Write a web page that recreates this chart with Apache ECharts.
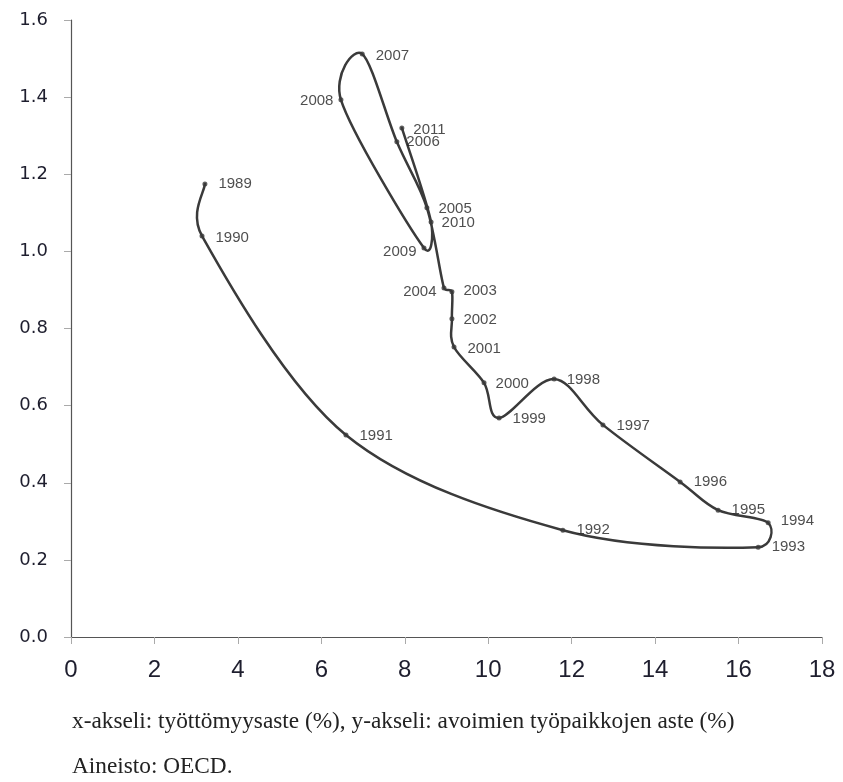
<!DOCTYPE html>
<html><head><meta charset="utf-8">
<script src="https://cdn.jsdelivr.net/npm/echarts@6/dist/echarts.min.js"></script>
<style>html,body{margin:0;padding:0;background:#fff}#c{width:843px;height:782px}</style>
</head><body><div id="c"></div>
<script>
const years = ['1989','1990','1991','1992','1993','1994','1995','1996','1997','1998','1999','2000','2001','2002','2003','2004','2005','2006','2007','2008','2009','2010','2011'];
const unemployment = [3.21,3.14,6.59,11.79,16.47,16.71,15.51,14.60,12.75,11.58,10.26,9.90,9.18,9.13,9.13,8.94,8.53,7.81,6.98,6.47,8.46,8.63,7.93];
const vacancies = [1.175,1.040,0.524,0.277,0.233,0.296,0.329,0.402,0.550,0.669,0.568,0.659,0.752,0.825,0.895,0.905,1.113,1.284,1.512,1.393,1.009,1.076,1.320];
const xTicks = [0,2,4,6,8,10,12,14,16,18];
const yTicks = ['0.0','0.2','0.4','0.6','0.8','1.0','1.2','1.4','1.6'];

const leftLabels = {'2004':[0,4],'2008':[0,1],'2009':[0,4]};
const labelShift = {'1990':[0,2],'1991':[0,1],'1994':[-1,-2],'1997':[0,1],'1998':[-1,1],'1999':[0,1],'2000':[-2,1],'2001':[0,2],'2002':[-2,1],'2003':[-2,-1],'2005':[-2,1],'2006':[-4,0],'2007':[0,2],'2010':[-3,1],'2011':[-2,2]};

const points = years.map((y,i)=>{
  const item = {value:[unemployment[i],vacancies[i]], name:y};
  if (leftLabels[y]) {
    item.label = {position:'left', distance:5, offset:leftLabels[y]};
  } else if (labelShift[y]) {
    item.label = {offset:labelShift[y]};
  }
  return item;
});
const lineData = unemployment.map((x,i)=>[x, vacancies[i]]);

function renderCurve(params, api){
  if (params.dataIndex !== 0) return null;
  const p = lineData.map(d=>api.coord(d));
  const n = p.length;
  const cpIn = [], cpOut = [];
  for (let i=0;i<n;i++){
    const a=p[Math.max(i-1,0)], b=p[i], c=p[Math.min(i+1,n-1)];
    const vx=(c[0]-a[0])/6, vy=(c[1]-a[1])/6;
    const hl=Math.hypot(vx,vy) || 1;
    const d0=Math.hypot(b[0]-a[0],b[1]-a[1]), d1=Math.hypot(c[0]-b[0],c[1]-b[1]);
    const kIn=Math.min(1,(0.5*d0)/hl), kOut=Math.min(1,(0.5*d1)/hl);
    cpIn[i]=[b[0]-vx*kIn, b[1]-vy*kIn];
    cpOut[i]=[b[0]+vx*kOut, b[1]+vy*kOut];
  }
  let d = 'M' + p[0][0] + ' ' + p[0][1];
  for (let i=0;i<n-1;i++){
    d += ' C' + cpOut[i][0] + ' ' + cpOut[i][1] + ' ' + cpIn[i+1][0] + ' ' + cpIn[i+1][1] + ' ' + p[i+1][0] + ' ' + p[i+1][1];
  }
  return {type:'path', shape:{pathData:d}, style:{stroke:'#3a3a3a', lineWidth:2.5, fill:null, lineJoin:'round', lineCap:'round'}};
}

const chart = echarts.init(document.getElementById('c'));
chart.setOption({
  animation:false,
  backgroundColor:'#fff',
  grid:{left:71,right:21,top:20,bottom:145,containLabel:false},
  xAxis:{type:'value',min:0,max:18,interval:2,
    axisLine:{show:true,lineStyle:{color:'#555',width:1.2}},
    axisTick:{show:true,length:7,lineStyle:{color:'#aaa'}},
    splitLine:{show:false},
    axisLabel:{margin:21,fontFamily:'Liberation Sans',fontSize:24,color:'#1e1e2e',
      formatter:v=>xTicks.includes(v)?String(v):''}},
  yAxis:{type:'value',min:0,max:1.6,interval:0.2,
    axisLine:{show:true,lineStyle:{color:'#555',width:1.2}},
    axisTick:{show:true,length:7,lineStyle:{color:'#aaa'}},
    splitLine:{show:false},
    axisLabel:{margin:23,fontFamily:'DejaVu Sans',fontSize:18,color:'#1e1e2e',
      formatter:v=>yTicks[Math.round(v/0.2)]}},
  series:[{
    type:'custom',
    renderItem:renderCurve,
    data:lineData,
    encode:{x:0,y:1},
    silent:true,
    z:2
  },{
    type:'scatter',
    data:points,
    symbol:'circle',
    symbolSize:5,
    itemStyle:{color:'#3a3a3a'},
    z:3,
    label:{show:true,position:'right',distance:11,formatter:p=>p.name,
      fontFamily:'Liberation Sans',fontSize:15,color:'#222'}
  }],
  graphic:[
    {type:'text',left:72,top:710,style:{text:'x-akseli: työttömyysaste (%), y-akseli: avoimien työpaikkojen aste (%)',
      font:'23.3px "Liberation Serif"',fill:'#222'}},
    {type:'text',left:72,top:755,style:{text:'Aineisto: OECD.',font:'23.3px "Liberation Serif"',fill:'#222'}}
  ]
});
</script></body></html>
